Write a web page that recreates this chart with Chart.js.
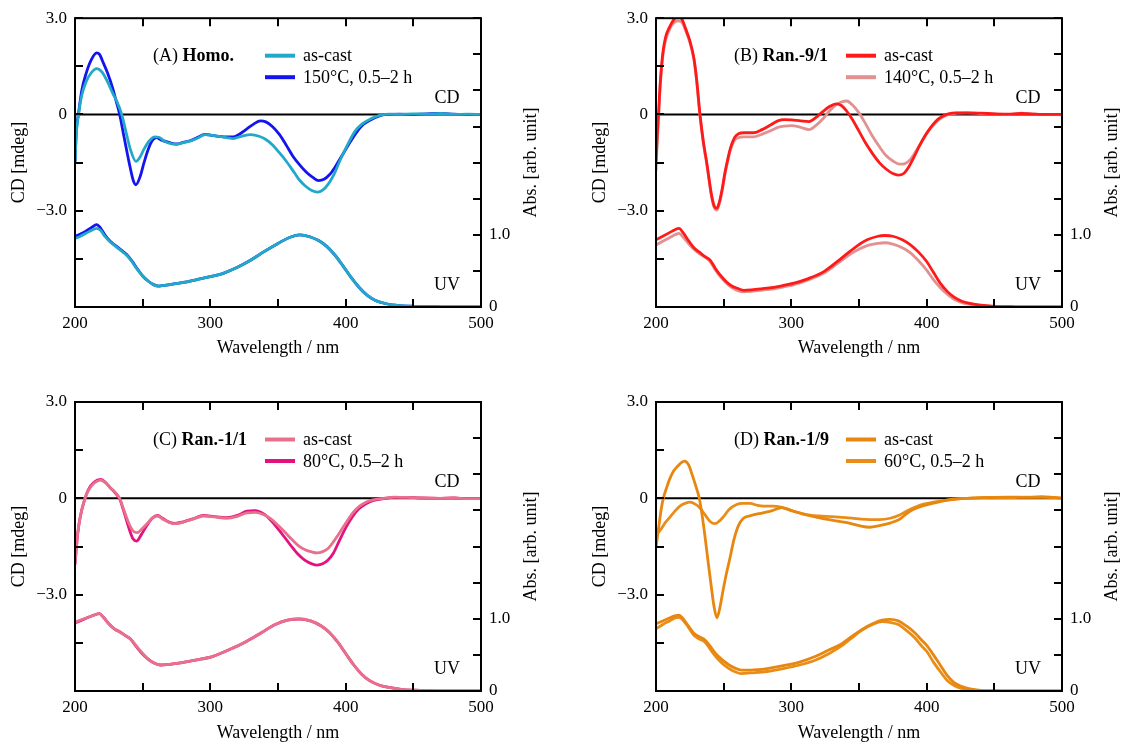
<!DOCTYPE html>
<html><head><meta charset="utf-8">
<script src="https://cdn.jsdelivr.net/npm/chart.js@4.4.1/dist/chart.umd.min.js"></script>
<style>
html,body{margin:0;padding:0;background:#fff;width:1126px;height:744px;overflow:hidden;position:relative}
canvas{position:absolute}
</style></head><body>
<canvas id="cA" width="563" height="372" style="left:0px;top:0px"></canvas>
<canvas id="cB" width="563" height="372" style="left:563px;top:0px"></canvas>
<canvas id="cC" width="563" height="372" style="left:0px;top:372px"></canvas>
<canvas id="cD" width="563" height="372" style="left:563px;top:372px"></canvas>
<script>
// ---------- tick labels / axis ranges ----------
const X_TICK_LABELS = [200, 300, 400, 500];
const CD_TICK_LABELS = {"3": "3.0", "0": "0", "-3": "\u22123.0"};
const ABS_TICK_LABELS = {"0": "0", "1": "1.0"};
const CD_RANGE = [-6, 3];
const ABS_RANGE = [0, 4];
const ZERO_LINE = [[200, 0], [500, 0]];

// ---------- Panel A : Homo. ----------
const A_CD_asCast = [[200,-1.5],[201,-0.6],[202.6,0],[205,0.6],[208,1.0],[212,1.3],[216,1.43],[220,1.32],[224,1.02],[228,0.65],[231,0.4],[234.5,0],[238,-0.6],[241,-1.1],[245,-1.46],[248,-1.33],[251,-1.08],[255,-0.82],[259,-0.7],[262,-0.71],[266,-0.83],[270,-0.9],[275,-0.93],[280,-0.88],[285,-0.83],[290,-0.75],[296,-0.63],[301,-0.65],[306,-0.68],[312,-0.72],[317,-0.75],[323,-0.68],[330,-0.63],[336,-0.68],[341,-0.78],[346,-0.95],[351,-1.19],[356,-1.45],[362,-1.81],[366,-2.05],[370,-2.22],[375,-2.37],[379,-2.42],[383,-2.36],[387,-2.18],[391,-1.9],[396,-1.42],[401,-0.98],[407,-0.52],[412,-0.3],[418,-0.15],[422,-0.07],[426,-0.02],[432,0.01],[440,0],[450,0.02],[460,0.01],[470,0.03],[480,0],[490,0.01],[500,0]];
const A_CD_150C = [[200,-1.5],[201,-0.5],[202.5,0],[205,0.75],[208,1.25],[212,1.7],[216,1.92],[218,1.88],[221,1.6],[224,1.3],[228,0.8],[230.5,0.4],[233,0],[236,-0.65],[240,-1.5],[243,-2.05],[245,-2.19],[248,-1.95],[251,-1.5],[254,-1.1],[257,-0.82],[260,-0.72],[264,-0.8],[270,-0.88],[275,-0.92],[280,-0.87],[285,-0.82],[290,-0.73],[296,-0.62],[301,-0.65],[306,-0.68],[312,-0.7],[317,-0.7],[322,-0.6],[327,-0.45],[332,-0.3],[337,-0.2],[341,-0.23],[346,-0.38],[351,-0.62],[356,-0.95],[361,-1.3],[366,-1.57],[371,-1.8],[376,-1.97],[380,-2.06],[384,-2.02],[388,-1.88],[392,-1.65],[397,-1.3],[402,-0.95],[407,-0.62],[412,-0.35],[418,-0.18],[424,-0.06],[430,0],[440,0.01],[450,0],[460,0.02],[470,0.03],[480,0.01],[490,0],[500,0]];
const A_UV_asCast = [[200,0.95],[204,0.98],[208,1.02],[212,1.06],[216,1.09],[219,1.06],[222,0.98],[226,0.9],[230,0.84],[234,0.78],[238,0.72],[242,0.63],[246,0.52],[250,0.43],[254,0.36],[258,0.31],[262,0.29],[266,0.3],[270,0.31],[280,0.34],[290,0.38],[300,0.42],[310,0.47],[320,0.55],[330,0.65],[340,0.77],[350,0.88],[358,0.96],[366,1.0],[374,0.97],[380,0.92],[386,0.84],[392,0.72],[398,0.57],[404,0.41],[410,0.27],[416,0.16],[422,0.09],[430,0.045],[440,0.02],[450,0.01],[470,0.003],[500,0]];
const A_UV_150C = [[200,0.98],[204,1.01],[208,1.05],[212,1.1],[216,1.14],[219,1.09],[222,1.0],[226,0.91],[230,0.85],[234,0.79],[238,0.73],[242,0.64],[246,0.53],[250,0.43],[254,0.36],[258,0.31],[262,0.29],[266,0.3],[270,0.31],[280,0.34],[290,0.38],[300,0.42],[310,0.47],[320,0.55],[330,0.65],[340,0.77],[350,0.88],[358,0.96],[366,1.0],[374,0.97],[380,0.92],[386,0.84],[392,0.72],[398,0.57],[404,0.41],[410,0.27],[416,0.16],[422,0.09],[430,0.045],[440,0.02],[450,0.01],[470,0.003],[500,0]];

// ---------- Panel B : Ran.-9/1 ----------
const B_CD_asCast = [[200,-1.45],[201,-0.6],[202,0.1],[203,0.9],[205,1.9],[207,2.4],[210,2.72],[213,2.95],[216,3.05],[219,2.98],[222,2.66],[225,2.3],[228,1.75],[230,1.1],[232.5,0],[235,-0.85],[237.5,-1.5],[241,-2.5],[243,-2.85],[245,-2.92],[247,-2.7],[249,-2.3],[251,-1.8],[253,-1.4],[255,-1.05],[258,-0.72],[261,-0.6],[265,-0.57],[272,-0.57],[278,-0.48],[285,-0.32],[290,-0.2],[295,-0.16],[300,-0.17],[307,-0.2],[313,-0.22],[318,-0.1],[323,0.08],[328,0.24],[333,0.33],[337,0.28],[341,0.1],[345,-0.15],[350,-0.52],[355,-0.9],[360,-1.22],[365,-1.5],[370,-1.7],[375,-1.84],[379,-1.89],[383,-1.84],[387,-1.62],[391,-1.3],[395,-0.95],[399,-0.65],[403,-0.4],[407,-0.2],[411,-0.07],[416,0.02],[422,0.05],[430,0.05],[440,0.04],[450,0.02],[460,0.01],[470,0.03],[480,0.01],[490,0],[500,0]];
const B_CD_140C = [[200,-1.75],[201,-0.8],[202,0],[203,0.8],[205,1.8],[207,2.3],[210,2.65],[213,2.85],[216,2.92],[219,2.88],[222,2.6],[225,2.25],[228,1.72],[230,1.05],[232.5,-0.05],[235,-0.9],[237.5,-1.55],[241,-2.55],[243,-2.9],[245,-2.98],[247,-2.75],[249,-2.35],[251,-1.85],[253,-1.45],[255,-1.1],[258,-0.8],[261,-0.72],[265,-0.7],[272,-0.7],[278,-0.62],[285,-0.5],[290,-0.4],[295,-0.36],[300,-0.35],[307,-0.4],[313,-0.47],[318,-0.35],[323,-0.15],[328,0.1],[333,0.3],[337,0.39],[341,0.42],[345,0.3],[350,0.05],[355,-0.3],[360,-0.68],[365,-1.0],[370,-1.28],[375,-1.45],[380,-1.55],[384,-1.53],[388,-1.4],[392,-1.15],[396,-0.88],[400,-0.6],[404,-0.38],[408,-0.2],[412,-0.08],[416,0],[422,0.04],[430,0.05],[440,0.03],[450,0.02],[460,0],[470,0.04],[480,0.01],[490,0],[500,-0.01]];
const B_UV_asCast = [[200,0.93],[205,0.98],[210,1.03],[214,1.07],[217,1.09],[220,1.03],[224,0.92],[228,0.82],[232,0.76],[236,0.7],[240,0.65],[244,0.53],[248,0.43],[252,0.35],[256,0.29],[260,0.26],[265,0.23],[272,0.24],[282,0.26],[292,0.29],[302,0.33],[312,0.39],[324,0.49],[336,0.66],[346,0.81],[356,0.93],[364,0.98],[369,0.99],[375,0.98],[382,0.93],[388,0.86],[394,0.76],[400,0.63],[405,0.48],[410,0.33],[415,0.22],[420,0.14],[426,0.08],[432,0.05],[440,0.025],[450,0.01],[465,0.003],[500,0]];
const B_UV_140C = [[200,0.86],[205,0.91],[210,0.96],[214,1.0],[217,1.02],[220,0.97],[224,0.88],[228,0.8],[232,0.74],[236,0.69],[240,0.63],[244,0.51],[248,0.41],[252,0.33],[256,0.27],[260,0.23],[265,0.21],[272,0.22],[282,0.24],[292,0.27],[302,0.31],[312,0.37],[324,0.47],[336,0.63],[346,0.76],[356,0.85],[364,0.88],[369,0.89],[375,0.87],[382,0.82],[388,0.75],[394,0.64],[400,0.51],[405,0.38],[410,0.27],[415,0.18],[420,0.11],[426,0.06],[432,0.035],[440,0.02],[450,0.01],[465,0.003],[500,0]];

// ---------- Panel C : Ran.-1/1 ----------
const C_CD_asCast = [[200,-2.06],[202,-1.1],[204,-0.55],[207.4,0],[210,0.25],[214,0.47],[219,0.57],[223,0.47],[226,0.33],[229,0.22],[233,0],[236,-0.35],[240,-0.8],[243,-1.02],[246,-1.07],[249,-0.97],[253,-0.8],[257,-0.62],[261,-0.55],[265,-0.65],[270,-0.76],[274,-0.79],[280,-0.74],[287,-0.65],[295,-0.55],[303,-0.58],[312,-0.62],[320,-0.56],[327,-0.45],[333,-0.44],[340,-0.52],[345,-0.65],[350,-0.84],[355,-1.05],[360,-1.27],[365,-1.47],[370,-1.6],[375,-1.67],[379,-1.7],[383,-1.66],[387,-1.56],[391,-1.35],[395,-1.1],[400,-0.78],[405,-0.47],[410,-0.25],[415,-0.12],[420,-0.05],[428,0],[436,0.04],[445,0.03],[455,0.01],[470,0],[480,0.01],[490,-0.01],[500,-0.01]];
const C_CD_80C = [[200,-2.06],[202,-1.1],[204,-0.55],[207.4,0],[210,0.28],[214,0.5],[219,0.59],[223,0.48],[226,0.33],[229,0.2],[233,-0.02],[236,-0.4],[240,-0.95],[243,-1.27],[245.5,-1.33],[249,-1.13],[253,-0.85],[257,-0.62],[261,-0.53],[265,-0.63],[270,-0.75],[274,-0.78],[280,-0.73],[287,-0.64],[295,-0.53],[303,-0.57],[312,-0.6],[320,-0.53],[327,-0.4],[333,-0.38],[340,-0.5],[345,-0.7],[350,-0.95],[355,-1.22],[360,-1.5],[365,-1.75],[370,-1.93],[375,-2.04],[379,-2.08],[383,-2.04],[387,-1.92],[391,-1.7],[395,-1.35],[400,-0.92],[405,-0.57],[410,-0.32],[415,-0.17],[420,-0.07],[428,-0.01],[436,0.03],[445,0.03],[455,0.01],[470,0],[480,0.01],[490,-0.01],[500,-0.01]];
const C_UV_asCast = [[200,0.95],[205,0.99],[210,1.02],[214,1.05],[218,1.07],[221,1.02],[225,0.93],[229,0.86],[233,0.82],[237,0.77],[241,0.72],[245,0.63],[249,0.54],[254,0.44],[258,0.39],[263,0.36],[270,0.37],[278,0.39],[290,0.43],[302,0.48],[315,0.58],[327,0.69],[338,0.81],[348,0.92],[357,0.98],[366,1.0],[374,0.97],[382,0.9],[388,0.81],[394,0.68],[400,0.52],[406,0.36],[412,0.23],[418,0.14],[425,0.08],[433,0.045],[442,0.02],[455,0.01],[475,0.003],[500,0]];
const C_UV_80C = [[200,0.94],[205,0.98],[210,1.02],[214,1.05],[218,1.07],[221,1.02],[225,0.93],[229,0.86],[233,0.82],[237,0.77],[241,0.72],[245,0.62],[249,0.53],[254,0.44],[258,0.39],[263,0.36],[270,0.37],[278,0.39],[290,0.43],[302,0.48],[315,0.58],[327,0.69],[338,0.81],[348,0.92],[357,0.98],[366,0.995],[374,0.97],[382,0.9],[388,0.81],[394,0.68],[400,0.52],[406,0.36],[412,0.23],[418,0.14],[425,0.08],[433,0.045],[442,0.02],[455,0.01],[475,0.003],[500,0]];

// ---------- Panel D : Ran.-1/9 ----------
const D_CD_asCast = [[200,-1.54],[202,-0.9],[204,-0.3],[205.4,0],[208,0.35],[210,0.59],[213,0.85],[216,1.0],[219,1.12],[221,1.16],[224,1.05],[227,0.7],[230,0.3],[232,0],[235,-0.8],[238,-1.8],[241,-2.8],[243,-3.4],[245,-3.72],[247,-3.45],[249.5,-2.88],[252,-2.35],[254.7,-1.85],[257.5,-1.3],[260.9,-0.85],[264.6,-0.62],[270,-0.54],[279,-0.45],[286,-0.38],[293,-0.29],[300,-0.38],[310,-0.5],[320,-0.6],[330,-0.68],[340,-0.75],[350,-0.85],[358,-0.9],[365,-0.85],[373,-0.77],[380,-0.65],[385,-0.48],[390,-0.35],[397,-0.24],[405,-0.15],[417,-0.05],[430,0],[447,0.03],[460,0.04],[476,0.03],[485,0.05],[495,0.02],[500,0.01]];
const D_CD_60C = [[200,-1.15],[203,-1.0],[207,-0.75],[210,-0.6],[214,-0.4],[217.7,-0.24],[222,-0.15],[225,-0.12],[229,-0.18],[232.5,-0.3],[236,-0.5],[240,-0.72],[243.6,-0.79],[246.5,-0.72],[249.7,-0.58],[254,-0.35],[259.6,-0.19],[264,-0.16],[269.5,-0.16],[275,-0.22],[279.3,-0.24],[286,-0.24],[293,-0.28],[300,-0.38],[310,-0.5],[320,-0.55],[330,-0.57],[340,-0.6],[350,-0.64],[358,-0.66],[365,-0.66],[373,-0.62],[380,-0.52],[385,-0.4],[390,-0.3],[397,-0.19],[405,-0.12],[417,-0.04],[430,0],[447,0.03],[460,0.02],[476,0.04],[485,0.03],[495,0.02],[500,0]];
const D_UV_asCast = [[200,0.93],[205,0.97],[210,1.01],[214,1.04],[217,1.05],[220,1.0],[224,0.9],[228,0.8],[232,0.75],[236,0.71],[240,0.62],[244,0.52],[249,0.43],[254,0.36],[258,0.32],[263,0.29],[270,0.29],[282,0.31],[294,0.35],[306,0.4],[318,0.48],[328,0.57],[336,0.64],[345,0.76],[352,0.85],[360,0.93],[367,0.98],[373,0.99],[379,0.97],[385,0.9],[391,0.81],[396,0.71],[400,0.63],[405,0.5],[410,0.36],[415,0.22],[420,0.12],[425,0.07],[432,0.03],[440,0.01],[455,0.003],[500,0]];
const D_UV_60C = [[200,0.86],[205,0.92],[210,0.97],[214,1.01],[217,1.02],[220,0.98],[224,0.88],[228,0.77],[232,0.72],[236,0.68],[240,0.58],[244,0.48],[249,0.38],[254,0.31],[258,0.27],[263,0.24],[270,0.25],[282,0.27],[294,0.31],[306,0.36],[318,0.43],[328,0.52],[336,0.61],[345,0.74],[352,0.84],[360,0.92],[367,0.96],[373,0.95],[379,0.92],[385,0.84],[391,0.74],[396,0.63],[400,0.55],[405,0.4],[410,0.27],[415,0.15],[420,0.08],[425,0.04],[432,0.02],[440,0.005],[455,0],[500,0]];

// ---------- panel descriptions (text + layout, no data) ----------
const FONT = "'Liberation Serif','Times New Roman',serif";
const panels = [
  {id:'cA', tag:'(A) ', name:'Homo.', yW:75, y2W:82, padTop:18, xH:65, yTitlePad:8.2, xTitlePad:13.2,
   series:[{label:'as-cast', color:'#22A8C8', cd:A_CD_asCast, uv:A_UV_asCast},
           {label:'150\u00B0C, 0.5\u20132 h', color:'#1414EE', cd:A_CD_150C, uv:A_UV_150C}]},
  {id:'cB', tag:'(B) ', name:'Ran.-9/1', yW:93, y2W:64, padTop:18, xH:65, yTitlePad:26.2, xTitlePad:13.2,
   series:[{label:'as-cast', color:'#FF1A1A', cd:B_CD_asCast, uv:B_UV_asCast},
           {label:'140\u00B0C, 0.5\u20132 h', color:'#E39090', cd:B_CD_140C, uv:B_UV_140C}]},
  {id:'cC', tag:'(C) ', name:'Ran.-1/1', yW:75, y2W:82, padTop:30, xH:53, yTitlePad:8.2, xTitlePad:0.2,
   series:[{label:'as-cast', color:'#E8708C', cd:C_CD_asCast, uv:C_UV_asCast},
           {label:'80\u00B0C, 0.5\u20132 h', color:'#E3127F', cd:C_CD_80C, uv:C_UV_80C}]},
  {id:'cD', tag:'(D) ', name:'Ran.-1/9', yW:93, y2W:64, padTop:30, xH:53, yTitlePad:26.2, xTitlePad:0.2,
   series:[{label:'as-cast', color:'#E8870F', cd:D_CD_asCast, uv:D_UV_asCast},
           {label:'60\u00B0C, 0.5\u20132 h', color:'#EA8C18', cd:D_CD_60C, uv:D_UV_60C}]}
];

const toXY = arr => arr.map(p => ({x:p[0], y:p[1]}));
const near = (v, k) => Math.abs(v - Number(k)) < 1e-6;

function decor(p){
  return {
    id:'decor',
    afterDraw(chart){
      const {ctx, chartArea:a, scales} = chart;
      ctx.save();
      ctx.strokeStyle = '#000';
      ctx.lineWidth = 2;
      const TL = 8;
      ctx.beginPath();
      scales.x.ticks.forEach(t => {
        const px = Math.round(scales.x.getPixelForValue(t.value));
        ctx.moveTo(px, a.bottom); ctx.lineTo(px, a.bottom - TL);
        ctx.moveTo(px, a.top); ctx.lineTo(px, a.top + TL);
      });
      scales.y.ticks.forEach(t => {
        const py = Math.round(scales.y.getPixelForValue(t.value));
        ctx.moveTo(a.left, py); ctx.lineTo(a.left + TL, py);
      });
      scales.y2.ticks.forEach(t => {
        const py = Math.round(scales.y2.getPixelForValue(t.value));
        ctx.moveTo(a.right, py); ctx.lineTo(a.right - TL, py);
      });
      ctx.stroke();
      ctx.strokeRect(a.left, a.top, a.right - a.left, a.bottom - a.top);

      // right axis title (reads bottom to top)
      ctx.fillStyle = '#000';
      ctx.font = '18px ' + FONT;
      ctx.textAlign = 'center';
      ctx.textBaseline = 'middle';
      ctx.save();
      ctx.translate(a.right + 50, (a.top + a.bottom) / 2);
      ctx.rotate(-Math.PI / 2);
      ctx.fillText('Abs. [arb. unit]', 0, 0);
      ctx.restore();

      // CD / UV labels
      ctx.fillText('CD', a.right - 34, a.top + 80);
      ctx.fillText('UV', a.right - 34, a.top + 267);

      // legend
      ctx.textAlign = 'left';
      const tx = a.left + 78, ty = a.top + 38;
      ctx.font = '18px ' + FONT;
      ctx.fillText(p.tag, tx, ty);
      const w = ctx.measureText(p.tag).width;
      ctx.font = 'bold 18px ' + FONT;
      ctx.fillText(p.name, tx + w, ty);
      ctx.font = '18px ' + FONT;
      p.series.forEach((s, i) => {
        const yy = a.top + 37.5 + i * 21.5;
        ctx.strokeStyle = s.color;
        ctx.lineWidth = 4;
        ctx.beginPath();
        ctx.moveTo(a.left + 190, yy); ctx.lineTo(a.left + 220, yy);
        ctx.stroke();
        ctx.fillText(s.label, a.left + 228, yy + 1);
      });
      ctx.restore();
    }
  };
}

panels.forEach(p => {
  const datasets = [];
  p.series.forEach((s, i) => {
    datasets.push({label:s.label + ' CD', data:toXY(s.cd), yAxisID:'y', borderColor:s.color,
      borderWidth:2.8, pointRadius:0, cubicInterpolationMode:'monotone', fill:false, order:i});
    datasets.push({label:s.label + ' UV', data:toXY(s.uv), yAxisID:'y2', borderColor:s.color,
      borderWidth:2.8, pointRadius:0, cubicInterpolationMode:'monotone', fill:false, order:i});
  });
  datasets.push({label:'zero', data:toXY(ZERO_LINE), yAxisID:'y', borderColor:'#000',
    borderWidth:2, pointRadius:0, fill:false, order:10});

  new Chart(document.getElementById(p.id), {
    type:'line',
    data:{datasets},
    options:{
      responsive:false, animation:false, devicePixelRatio:1,
      layout:{padding:{top:p.padTop, left:0, right:0, bottom:0}},
      plugins:{legend:{display:false}, tooltip:{enabled:false}},
      scales:{
        x:{type:'linear', position:'bottom', min:200, max:500,
          grid:{display:false, drawTicks:false}, border:{display:false},
          ticks:{stepSize:50, autoSkip:false, maxRotation:0, padding:6, color:'#000',
            font:{family:FONT, size:17},
            callback:v => X_TICK_LABELS.includes(v) ? String(v) : ''},
          title:{display:true, text:'Wavelength / nm', color:'#000', font:{family:FONT, size:18},
            padding:{top:0, bottom:p.xTitlePad}},
          afterFit:s => { s.height = p.xH; }},
        y:{type:'linear', position:'left', min:CD_RANGE[0], max:CD_RANGE[1],
          grid:{display:false, drawTicks:false}, border:{display:false},
          ticks:{stepSize:1.5, autoSkip:false, padding:8, color:'#000', font:{family:FONT, size:17},
            callback:v => { for (const k in CD_TICK_LABELS) if (near(v,k)) return CD_TICK_LABELS[k]; return ''; }},
          title:{display:true, text:'CD [mdeg]', color:'#000', font:{family:FONT, size:18},
            padding:{top:p.yTitlePad, bottom:0}},
          afterFit:s => { s.width = p.yW; }},
        y2:{type:'linear', position:'right', min:ABS_RANGE[0], max:ABS_RANGE[1],
          grid:{display:false, drawTicks:false}, border:{display:false},
          ticks:{stepSize:0.5, autoSkip:false, padding:8, color:'#000', font:{family:FONT, size:17},
            callback:v => { for (const k in ABS_TICK_LABELS) if (near(v,k)) return ABS_TICK_LABELS[k]; return ''; }},
          afterFit:s => { s.width = p.y2W; }}
      }
    },
    plugins:[decor(p)]
  });
});
</script>
</body></html>
